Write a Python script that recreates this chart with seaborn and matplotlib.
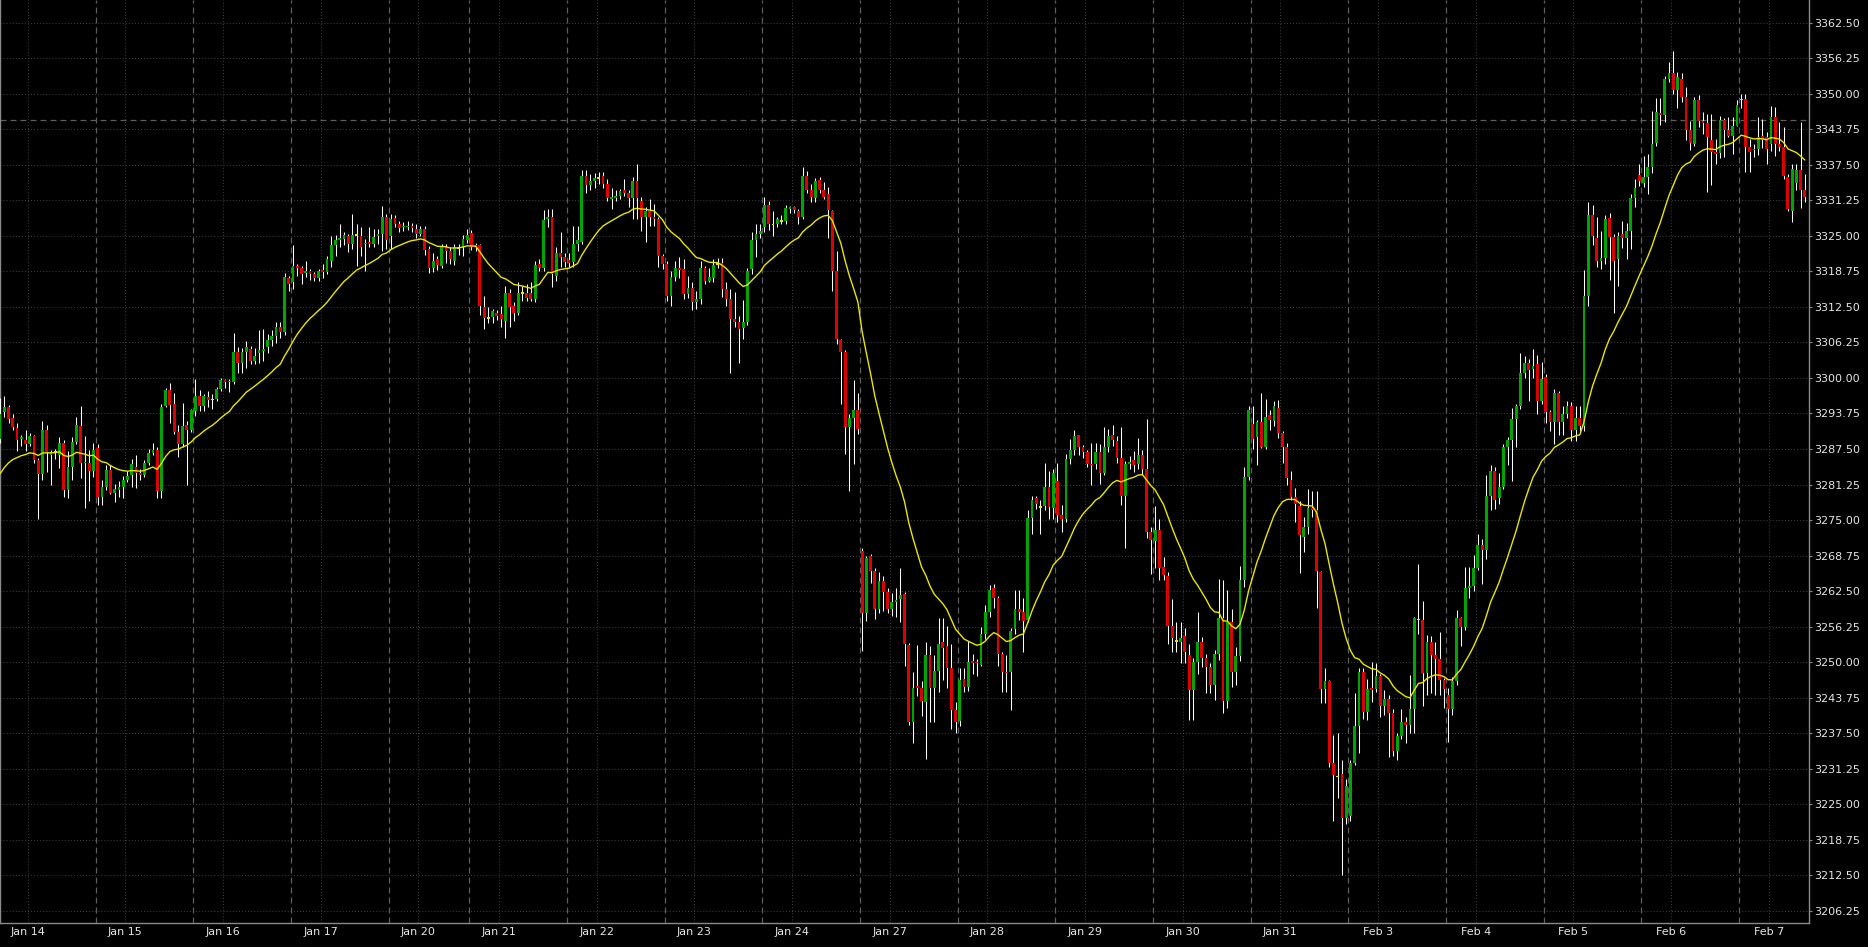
import numpy as np
import pandas as pd
import seaborn as sns
import matplotlib.pyplot as plt

# one trading day per entry, hourly bars
day_labels = ['Jan 14', 'Jan 15', 'Jan 16', 'Jan 17', 'Jan 20', 'Jan 21', 'Jan 22', 'Jan 23',
              'Jan 24', 'Jan 27', 'Jan 28', 'Jan 29', 'Jan 30', 'Jan 31', 'Feb 3', 'Feb 4',
              'Feb 5', 'Feb 6', 'Feb 7']
bars_per_day = [23, 23, 23, 23, 19] + [23] * 13 + [16]

open_by_day = [
    [3289.3, 3294.0, 3294.8, 3293.0, 3291.2, 3289.2, 3289.1, 3288.4, 3289.7, 3285.6, 3283.1, 3290.8, 3286.4, 3287.0, 3286.5, 3288.5, 3280.3, 3284.4, 3288.7, 3291.5, 3285.0, 3285.0, 3283.6],
    [3287.7, 3279.0, 3280.8, 3283.8, 3279.7, 3280.3, 3280.8, 3282.0, 3283.0, 3284.4, 3283.2, 3283.0, 3285.0, 3286.8, 3287.3, 3280.1, 3295.0, 3297.8, 3295.5, 3290.5, 3288.4, 3291.7, 3290.8],
    [3294.2, 3296.8, 3295.0, 3296.6, 3296.2, 3296.3, 3298.0, 3299.6, 3299.4, 3299.2, 3304.6, 3302.7, 3304.6, 3305.1, 3302.9, 3304.3, 3304.8, 3305.5, 3306.6, 3307.4, 3309.0, 3308.0, 3317.5],
    [3316.8, 3319.75, 3319.3, 3318.4, 3318.9, 3318.2, 3317.5, 3319.0, 3318.6, 3320.6, 3323.3, 3324.2, 3324.5, 3325.0, 3323.6, 3325.2, 3325.0, 3323.6, 3324.0, 3323.6, 3325.0, 3325.3, 3328.3],
    [3325.0, 3328.2, 3327.1, 3326.5, 3326.6, 3326.8, 3326.2, 3325.3, 3326.2, 3322.7, 3319.3, 3320.9, 3319.75, 3323.0, 3322.4, 3320.6, 3322.9, 3323.0, 3324.2],
    [3325.5, 3323.4, 3323.3, 3312.5, 3310.6, 3310.7, 3311.5, 3311.2, 3310.0, 3315.0, 3312.7, 3311.5, 3314.9, 3315.0, 3315.0, 3313.9, 3320.0, 3319.3, 3327.9, 3328.3, 3318.0, 3321.9, 3321.2],
    [3320.8, 3320.4, 3323.5, 3324.0, 3335.6, 3334.0, 3334.6, 3335.2, 3335.5, 3334.2, 3331.5, 3331.7, 3332.0, 3333.0, 3332.5, 3331.6, 3334.6, 3331.2, 3328.3, 3329.4, 3328.4, 3328.0, 3321.5],
    [3320.0, 3314.4, 3317.7, 3319.4, 3319.2, 3314.7, 3315.9, 3313.3, 3313.9, 3319.4, 3317.1, 3317.5, 3320.0, 3320.2, 3315.6, 3313.9, 3310.3, 3309.9, 3308.7, 3309.9, 3319.1, 3324.3, 3325.3],
    [3326.5, 3330.5, 3327.0, 3327.1, 3327.6, 3327.6, 3329.8, 3330.0, 3329.3, 3328.3, 3335.5, 3333.0, 3331.6, 3334.75, 3333.1, 3332.3, 3329.3, 3318.9, 3306.6, 3304.6, 3291.4, 3293.0, 3294.4],
    [3269.6, 3258.7, 3268.7, 3266.1, 3259.3, 3264.3, 3262.3, 3259.3, 3260.5, 3261.1, 3262.0, 3253.0, 3239.4, 3245.8, 3245.4, 3242.9, 3251.2, 3245.4, 3248.4, 3253.5, 3252.8, 3248.9, 3241.5],
    [3239.6, 3247.1, 3245.7, 3250.2, 3250.0, 3249.5, 3254.9, 3258.8, 3263.0, 3261.3, 3251.4, 3248.3, 3248.2, 3255.9, 3259.3, 3258.8, 3257.5, 3275.4, 3278.9, 3277.3, 3277.5, 3280.9, 3277.2],
    [3281.8, 3275.8, 3275.1, 3285.8, 3287.4, 3289.9, 3287.9, 3286.9, 3284.8, 3284.8, 3286.9, 3283.2, 3287.8, 3289.9, 3288.9, 3286.0, 3279.2, 3284.8, 3285.5, 3284.8, 3286.5, 3283.9, 3272.9],
    [3271.4, 3273.3, 3266.8, 3265.2, 3256.3, 3253.7, 3253.5, 3254.6, 3251.2, 3245.1, 3250.1, 3253.6, 3250.7, 3249.2, 3246.0, 3251.5, 3257.7, 3243.1, 3257.1, 3248.3, 3251.1, 3264.4, 3282.6],
    [3291.9, 3289.6, 3292.2, 3287.9, 3293.4, 3292.5, 3294.7, 3290.3, 3287.9, 3282.1, 3279.0, 3277.4, 3272.0, 3273.8, 3277.2, 3276.8, 3265.9, 3245.2, 3246.6, 3232.2, 3229.9, 3230.4, 3222.6],
    [3222.9, 3232.2, 3238.8, 3248.3, 3241.3, 3245.4, 3245.2, 3247.6, 3242.3, 3243.6, 3241.0, 3234.3, 3237.0, 3239.4, 3239.0, 3241.7, 3257.5, 3257.5, 3248.1, 3253.6, 3251.2, 3250.5, 3246.9],
    [3244.2, 3241.7, 3246.7, 3257.7, 3256.2, 3263.0, 3263.4, 3266.5, 3270.6, 3269.7, 3279.2, 3283.6, 3278.9, 3280.9, 3287.9, 3289.0, 3292.7, 3295.0, 3300.9, 3302.6, 3301.6, 3302.4, 3295.9],
    [3300.2, 3294.0, 3292.3, 3297.4, 3292.3, 3293.7, 3295.0, 3290.8, 3293.0, 3291.6, 3314.5, 3328.7, 3324.6, 3320.6, 3321.05, 3328.2, 3324.8, 3321.0, 3325.3, 3324.6, 3325.9, 3331.7, 3335.7],
    [3334.25, 3335.4, 3337.1, 3341.25, 3346.6, 3346.2, 3352.55, 3353.6, 3350.7, 3352.55, 3349.5, 3343.7, 3341.1, 3348.85, 3345.15, 3344.8, 3341.9, 3339.7, 3339.55, 3345.4, 3343.7, 3342.5, 3344.4],
    [3349.0, 3349.1, 3340.6, 3340.1, 3340.3, 3342.5, 3342.4, 3341.2, 3345.9, 3341.2, 3340.6, 3335.4, 3329.4, 3334.3, 3336.6, 3333.15],
]

high_by_day = [
    [3296.5, 3296.8, 3295.2, 3293.7, 3292.0, 3289.9, 3290.8, 3290.3, 3289.9, 3286.0, 3292.5, 3291.7, 3287.4, 3287.5, 3289.6, 3289.0, 3287.2, 3289.6, 3293.1, 3295.0, 3289.7, 3287.4, 3288.5],
    [3288.4, 3282.0, 3284.6, 3284.6, 3281.4, 3281.8, 3282.8, 3283.7, 3285.7, 3286.5, 3284.0, 3285.6, 3287.5, 3288.5, 3287.8, 3295.5, 3298.3, 3299.1, 3297.4, 3291.7, 3295.6, 3292.5, 3294.6],
    [3299.8, 3297.8, 3297.2, 3297.7, 3297.1, 3298.4, 3300.0, 3299.9, 3299.8, 3307.9, 3305.5, 3305.3, 3306.5, 3305.6, 3305.3, 3308.4, 3308.6, 3307.7, 3308.4, 3309.8, 3309.8, 3318.5, 3318.0],
    [3323.3, 3320.0, 3319.75, 3320.5, 3319.2, 3318.6, 3319.2, 3320.0, 3321.5, 3325.0, 3325.2, 3327.0, 3325.6, 3325.3, 3328.9, 3327.1, 3326.5, 3324.5, 3326.5, 3326.2, 3326.2, 3330.2, 3328.9],
    [3328.9, 3328.6, 3327.6, 3327.5, 3327.6, 3327.3, 3327.0, 3326.8, 3326.8, 3323.2, 3322.0, 3321.5, 3323.6, 3323.6, 3323.0, 3323.6, 3323.5, 3325.2, 3326.2],
    [3326.0, 3323.8, 3323.6, 3314.5, 3312.4, 3312.1, 3312.0, 3312.7, 3316.2, 3315.6, 3313.3, 3316.8, 3316.2, 3316.5, 3316.8, 3320.5, 3321.0, 3329.5, 3329.8, 3329.8, 3323.0, 3325.6, 3322.0],
    [3322.0, 3326.8, 3326.8, 3336.5, 3336.5, 3335.8, 3336.0, 3336.2, 3336.2, 3335.0, 3333.4, 3333.0, 3333.3, 3335.0, 3333.0, 3335.4, 3337.6, 3331.8, 3330.0, 3331.5, 3330.6, 3328.3, 3321.8],
    [3320.6, 3318.9, 3320.5, 3321.2, 3320.9, 3318.0, 3316.8, 3315.3, 3320.6, 3319.75, 3319.4, 3320.9, 3321.1, 3321.1, 3316.8, 3315.6, 3315.2, 3310.9, 3313.7, 3319.3, 3325.6, 3327.0, 3327.0],
    [3331.9, 3331.2, 3329.3, 3328.4, 3328.6, 3330.5, 3330.2, 3330.2, 3329.75, 3337.1, 3336.4, 3334.2, 3335.2, 3335.3, 3334.5, 3333.6, 3329.5, 3322.3, 3306.8, 3305.0, 3293.6, 3299.6, 3297.4],
    [3270.0, 3268.7, 3269.0, 3266.5, 3265.9, 3265.2, 3263.1, 3262.2, 3263.0, 3266.6, 3262.4, 3253.3, 3248.3, 3253.0, 3246.7, 3253.5, 3252.8, 3251.2, 3257.8, 3257.8, 3256.3, 3253.2, 3242.9],
    [3248.9, 3248.9, 3253.7, 3251.4, 3250.6, 3256.1, 3260.1, 3263.6, 3263.8, 3261.6, 3251.8, 3251.3, 3256.0, 3262.7, 3262.7, 3261.3, 3276.8, 3279.3, 3279.3, 3278.6, 3285.0, 3283.6, 3283.9],
    [3285.0, 3277.6, 3286.7, 3289.2, 3290.8, 3290.0, 3288.2, 3287.4, 3288.5, 3288.5, 3288.4, 3291.3, 3291.0, 3291.7, 3289.8, 3291.3, 3285.3, 3286.3, 3287.2, 3289.4, 3287.4, 3292.7, 3273.7],
    [3277.5, 3275.1, 3268.5, 3265.9, 3261.1, 3257.0, 3257.0, 3256.0, 3253.2, 3250.7, 3258.9, 3254.5, 3251.5, 3249.8, 3252.1, 3264.7, 3264.4, 3262.7, 3259.4, 3252.7, 3267.0, 3284.3, 3295.1],
    [3295.1, 3292.6, 3297.3, 3296.3, 3294.4, 3296.0, 3296.1, 3290.6, 3288.5, 3283.7, 3280.7, 3278.3, 3275.5, 3280.5, 3280.1, 3280.1, 3266.1, 3248.9, 3246.8, 3237.2, 3237.6, 3232.8, 3229.5],
    [3232.8, 3244.5, 3248.9, 3248.9, 3247.0, 3250.1, 3249.8, 3247.9, 3245.1, 3244.2, 3241.7, 3237.5, 3241.7, 3240.4, 3247.7, 3257.9, 3267.2, 3260.8, 3254.8, 3254.6, 3253.6, 3255.3, 3247.2],
    [3245.4, 3247.4, 3259.1, 3258.0, 3266.8, 3266.8, 3268.8, 3272.5, 3271.7, 3282.9, 3284.7, 3284.25, 3283.2, 3288.3, 3289.6, 3294.7, 3295.35, 3304.4, 3303.9, 3303.4, 3305.1, 3304.0, 3302.75],
    [3300.7, 3294.3, 3298.0, 3297.7, 3295.0, 3296.0, 3295.7, 3295.0, 3295.0, 3319.0, 3331.0, 3330.35, 3328.3, 3325.9, 3328.7, 3329.1, 3325.3, 3325.6, 3327.65, 3327.3, 3332.4, 3335.05, 3337.7],
    [3339.1, 3339.4, 3347.0, 3349.2, 3349.2, 3353.2, 3355.6, 3357.6, 3353.9, 3353.6, 3351.2, 3345.15, 3349.5, 3349.85, 3346.8, 3346.5, 3346.5, 3342.1, 3346.0, 3345.8, 3345.9, 3345.9, 3348.9],
    [3350.0, 3350.0, 3342.1, 3341.2, 3345.9, 3345.6, 3343.3, 3347.8, 3347.7, 3345.0, 3344.1, 3335.9, 3337.7, 3337.7, 3345.0, 3335.9],
]

low_by_day = [
    [3288.5, 3293.1, 3292.0, 3290.8, 3287.2, 3288.1, 3287.2, 3288.1, 3285.0, 3275.2, 3282.0, 3283.4, 3281.1, 3285.8, 3284.2, 3279.0, 3278.9, 3282.0, 3288.4, 3282.4, 3277.1, 3278.4, 3282.5],
    [3277.7, 3277.7, 3280.2, 3279.6, 3278.1, 3279.0, 3278.9, 3281.7, 3280.8, 3280.7, 3282.0, 3282.5, 3284.6, 3286.4, 3278.9, 3278.9, 3294.9, 3292.0, 3290.2, 3286.1, 3287.8, 3281.1, 3290.5],
    [3293.3, 3294.2, 3294.2, 3294.8, 3294.6, 3295.9, 3297.7, 3298.3, 3297.6, 3299.0, 3300.9, 3300.8, 3301.8, 3302.4, 3302.4, 3302.7, 3303.0, 3304.3, 3305.6, 3306.2, 3307.1, 3307.5, 3315.3],
    [3315.6, 3318.0, 3316.5, 3317.7, 3317.2, 3317.1, 3317.0, 3317.5, 3318.2, 3319.5, 3321.5, 3323.0, 3323.3, 3322.2, 3322.7, 3319.75, 3321.5, 3318.9, 3323.0, 3323.0, 3323.6, 3322.4, 3322.7],
    [3322.7, 3326.5, 3325.7, 3325.8, 3326.0, 3325.6, 3324.6, 3324.9, 3321.7, 3318.4, 3318.6, 3319.0, 3319.4, 3320.3, 3320.0, 3319.9, 3321.6, 3321.5, 3323.7],
    [3322.5, 3322.4, 3311.0, 3308.6, 3309.7, 3309.7, 3310.2, 3308.9, 3307.1, 3308.9, 3310.0, 3311.0, 3313.5, 3313.5, 3313.5, 3313.3, 3318.8, 3318.8, 3326.5, 3316.0, 3317.0, 3319.5, 3319.5],
    [3319.5, 3319.6, 3322.3, 3323.5, 3332.5, 3333.0, 3333.4, 3334.2, 3333.5, 3331.2, 3329.8, 3331.2, 3331.5, 3332.0, 3330.0, 3328.0, 3328.0, 3325.8, 3324.0, 3326.8, 3326.8, 3319.5, 3319.2],
    [3313.6, 3312.7, 3317.0, 3317.5, 3313.9, 3314.0, 3311.9, 3312.1, 3313.0, 3316.5, 3316.9, 3316.8, 3319.4, 3314.3, 3312.7, 3300.9, 3309.0, 3302.7, 3306.8, 3309.3, 3318.2, 3321.3, 3324.7],
    [3325.6, 3326.0, 3324.9, 3326.5, 3327.0, 3327.0, 3329.0, 3329.0, 3327.0, 3328.0, 3332.5, 3331.0, 3331.0, 3332.5, 3331.5, 3324.7, 3315.3, 3305.9, 3295.4, 3286.7, 3280.1, 3284.9, 3290.1],
    [3252.0, 3257.3, 3264.0, 3257.6, 3258.7, 3259.0, 3258.7, 3258.1, 3258.0, 3257.1, 3249.3, 3239.0, 3235.8, 3244.0, 3240.6, 3233.0, 3239.4, 3239.4, 3244.7, 3246.9, 3245.4, 3238.3, 3237.6],
    [3238.7, 3244.7, 3245.0, 3247.9, 3247.5, 3249.3, 3254.0, 3258.0, 3259.5, 3249.3, 3244.7, 3244.7, 3241.5, 3255.0, 3257.5, 3251.8, 3257.0, 3272.6, 3277.0, 3272.6, 3276.8, 3275.1, 3275.1],
    [3274.7, 3272.9, 3274.7, 3284.8, 3286.4, 3286.5, 3286.0, 3284.3, 3281.1, 3284.0, 3281.3, 3282.9, 3287.0, 3288.0, 3285.0, 3277.6, 3270.1, 3284.0, 3283.5, 3284.0, 3283.0, 3271.9, 3265.5],
    [3266.6, 3264.5, 3264.5, 3253.2, 3251.8, 3251.8, 3249.9, 3249.9, 3239.9, 3239.8, 3248.0, 3249.2, 3244.5, 3244.5, 3243.3, 3250.4, 3241.0, 3241.9, 3245.7, 3246.0, 3250.2, 3263.2, 3282.0],
    [3287.5, 3284.6, 3287.7, 3287.5, 3290.8, 3291.5, 3289.5, 3285.0, 3281.2, 3278.5, 3274.7, 3265.7, 3269.4, 3272.5, 3275.6, 3259.6, 3242.8, 3242.8, 3231.6, 3222.0, 3226.1, 3212.6, 3221.5],
    [3222.0, 3231.9, 3234.0, 3240.0, 3239.8, 3243.0, 3244.7, 3240.4, 3240.7, 3233.3, 3233.4, 3232.7, 3236.5, 3235.7, 3237.5, 3237.6, 3255.0, 3242.3, 3244.2, 3244.5, 3244.2, 3244.2, 3241.9],
    [3235.9, 3240.7, 3246.0, 3252.8, 3255.6, 3261.3, 3262.5, 3266.2, 3263.8, 3268.1, 3276.8, 3277.0, 3277.85, 3280.5, 3284.6, 3281.9, 3287.8, 3294.5, 3300.0, 3296.0, 3300.0, 3293.7, 3295.5],
    [3292.0, 3290.6, 3288.3, 3289.9, 3289.9, 3293.0, 3288.9, 3288.9, 3290.6, 3290.6, 3312.7, 3323.3, 3319.6, 3319.25, 3320.0, 3317.2, 3311.5, 3316.2, 3322.8, 3320.9, 3322.6, 3330.0, 3333.8],
    [3333.6, 3332.4, 3336.0, 3340.8, 3344.5, 3345.0, 3352.0, 3349.9, 3347.5, 3348.6, 3341.8, 3340.1, 3340.8, 3344.2, 3343.0, 3332.7, 3333.9, 3337.7, 3338.7, 3338.9, 3342.3, 3339.4, 3344.3],
    [3347.5, 3336.2, 3336.2, 3338.9, 3339.3, 3340.5, 3337.7, 3340.0, 3339.1, 3340.0, 3335.0, 3329.4, 3327.4, 3333.0, 3329.9, 3330.9],
]

close_by_day = [
    [3293.7, 3294.8, 3292.8, 3291.4, 3289.1, 3289.6, 3288.4, 3289.7, 3285.6, 3283.1, 3290.9, 3287.0, 3287.0, 3287.0, 3288.5, 3280.3, 3284.4, 3288.7, 3291.7, 3285.0, 3285.2, 3283.6, 3287.4],
    [3279.0, 3280.8, 3283.8, 3279.7, 3280.4, 3280.8, 3282.0, 3282.7, 3284.8, 3283.2, 3282.9, 3285.0, 3286.8, 3287.3, 3280.1, 3294.8, 3297.8, 3295.2, 3290.5, 3288.4, 3291.5, 3290.9, 3294.3],
    [3296.8, 3295.0, 3296.8, 3296.2, 3296.2, 3298.0, 3299.6, 3299.2, 3299.2, 3304.6, 3302.7, 3304.6, 3305.5, 3302.9, 3303.9, 3304.9, 3305.1, 3306.6, 3307.4, 3309.0, 3308.1, 3317.7, 3316.5],
    [3319.75, 3319.35, 3318.3, 3318.75, 3318.2, 3317.5, 3318.75, 3318.6, 3320.9, 3323.3, 3324.3, 3324.6, 3325.2, 3323.6, 3325.2, 3325.2, 3323.0, 3323.8, 3323.6, 3324.75, 3325.4, 3328.3, 3324.2],
    [3328.0, 3327.1, 3326.3, 3326.8, 3326.8, 3326.4, 3325.3, 3326.2, 3322.5, 3319.3, 3320.6, 3319.9, 3323.0, 3322.4, 3320.9, 3323.0, 3322.9, 3324.5, 3325.2],
    [3323.0, 3323.0, 3312.7, 3310.5, 3310.6, 3311.7, 3310.9, 3310.3, 3315.0, 3312.4, 3311.5, 3315.0, 3314.9, 3314.0, 3313.9, 3319.9, 3319.3, 3327.7, 3328.3, 3318.3, 3321.9, 3321.2, 3320.4],
    [3320.3, 3323.5, 3324.2, 3335.6, 3334.0, 3334.6, 3335.2, 3335.2, 3334.2, 3331.6, 3331.8, 3332.0, 3332.9, 3332.5, 3331.6, 3334.6, 3331.6, 3328.3, 3329.3, 3328.3, 3328.0, 3321.5, 3320.0],
    [3314.4, 3317.7, 3319.4, 3319.0, 3314.7, 3315.9, 3313.3, 3313.9, 3319.4, 3317.1, 3317.7, 3319.9, 3320.0, 3315.6, 3313.9, 3310.3, 3309.9, 3308.6, 3309.9, 3318.9, 3324.3, 3325.3, 3325.9],
    [3330.5, 3327.1, 3327.0, 3328.0, 3327.6, 3329.9, 3330.0, 3329.5, 3328.4, 3335.5, 3333.0, 3331.8, 3334.6, 3333.1, 3331.9, 3329.5, 3318.9, 3306.8, 3304.6, 3291.4, 3293.0, 3294.4, 3291.0],
    [3258.7, 3268.4, 3266.1, 3259.3, 3264.3, 3262.3, 3259.3, 3260.5, 3260.9, 3261.8, 3253.2, 3239.4, 3245.5, 3245.4, 3243.1, 3251.2, 3245.4, 3248.4, 3253.2, 3252.5, 3248.9, 3241.5, 3239.4],
    [3246.9, 3245.7, 3250.0, 3249.8, 3249.8, 3254.9, 3258.8, 3262.7, 3261.3, 3251.4, 3248.2, 3248.1, 3255.4, 3259.3, 3258.8, 3257.3, 3275.4, 3278.6, 3277.9, 3277.3, 3280.9, 3277.3, 3283.2],
    [3275.8, 3275.1, 3285.8, 3287.4, 3289.8, 3287.8, 3286.9, 3284.8, 3284.6, 3286.9, 3283.2, 3287.8, 3289.8, 3289.1, 3286.0, 3279.2, 3284.8, 3285.2, 3284.6, 3286.5, 3283.9, 3272.9, 3271.5],
    [3273.3, 3266.6, 3265.3, 3256.3, 3254.2, 3253.7, 3254.2, 3251.8, 3245.1, 3250.1, 3253.6, 3250.7, 3249.2, 3246.0, 3251.5, 3257.7, 3243.1, 3257.1, 3248.3, 3251.1, 3264.4, 3282.6, 3294.3],
    [3289.3, 3292.2, 3287.9, 3293.2, 3292.6, 3295.0, 3290.3, 3287.9, 3282.4, 3279.0, 3277.9, 3272.3, 3273.8, 3277.2, 3276.7, 3266.1, 3245.2, 3246.6, 3232.3, 3230.2, 3229.9, 3222.6, 3228.2],
    [3232.2, 3238.8, 3248.3, 3241.3, 3245.2, 3245.1, 3247.6, 3242.3, 3243.6, 3241.0, 3234.3, 3237.0, 3239.4, 3239.0, 3241.7, 3257.7, 3257.5, 3248.1, 3253.6, 3251.2, 3250.5, 3246.9, 3245.2],
    [3241.7, 3246.7, 3257.7, 3256.2, 3263.0, 3263.4, 3266.5, 3270.6, 3269.7, 3279.2, 3283.6, 3278.5, 3280.9, 3287.9, 3289.0, 3292.7, 3295.0, 3300.9, 3302.6, 3301.4, 3302.1, 3296.0, 3299.9],
    [3294.0, 3292.3, 3297.4, 3292.3, 3293.7, 3295.0, 3290.8, 3293.0, 3291.6, 3314.5, 3328.7, 3325.0, 3320.6, 3321.05, 3328.0, 3324.8, 3320.6, 3325.0, 3324.6, 3325.9, 3331.7, 3333.5, 3334.7],
    [3335.4, 3337.1, 3341.1, 3346.8, 3346.2, 3352.55, 3353.6, 3350.7, 3352.9, 3349.5, 3343.7, 3341.25, 3348.85, 3345.15, 3344.8, 3342.45, 3339.7, 3339.4, 3345.4, 3343.7, 3342.5, 3344.4, 3348.0],
    [3349.0, 3340.6, 3339.7, 3340.3, 3342.4, 3341.9, 3340.3, 3345.9, 3341.2, 3340.6, 3335.6, 3329.7, 3336.8, 3336.6, 3333.15, 3331.8],
]

ma_seed = 3282.0      # moving average value at the left edge
ma_span = 20
price_line = 3345.3   # dashed horizontal level
y_ticks = [3206.25, 3212.50, 3218.75, 3225.00, 3231.25, 3237.50, 3243.75, 3250.00, 3256.25,
           3262.50, 3268.75, 3275.00, 3281.25, 3287.50, 3293.75, 3300.00, 3306.25, 3312.50,
           3318.75, 3325.00, 3331.25, 3337.50, 3343.75, 3350.00, 3356.25, 3362.50]

for name, arr in [('open', open_by_day), ('high', high_by_day), ('low', low_by_day), ('close', close_by_day)]:
    lens = [len(d) for d in arr]
    if lens != bars_per_day:
        raise SystemExit('{} lengths {}'.format(name, lens))

df = pd.DataFrame({
    'open': np.concatenate(open_by_day),
    'high': np.concatenate(high_by_day),
    'low': np.concatenate(low_by_day),
    'close': np.concatenate(close_by_day),
})
df['x'] = np.arange(len(df))
df['ma'] = pd.Series([ma_seed] + list(df['close'])).ewm(span=ma_span, adjust=False).mean().iloc[1:].values

day_start = np.concatenate([[0], np.cumsum(bars_per_day)[:-1]])

UP, DOWN, FLAT = '#00a400', '#dc0000', '#e8e800'
GRID, SEP, AXIS, TEXT = '#3c3c3c', '#5e5e5e', '#8a8a8a', '#e6e6e6'

sns.set_theme(style='dark')
plt.rcParams['font.family'] = ['DejaVu Sans']
plt.rcParams['lines.scale_dashes'] = False

fig = plt.figure(figsize=(18.68, 9.47), dpi=100, facecolor='black')
ax = fig.add_axes([0, 24.3 / 947, 1808.7 / 1868, 922.7 / 947])
ax.set_facecolor('black')

ax.set_xlim(-0.005, 425.9)
ax.set_ylim(3204.16, 3366.49)

# grid: dotted at ticks, dashed at day boundaries
for y in y_ticks:
    ax.axhline(y, color=GRID, lw=0.8, ls=(0, (0.75, 1.45)), zorder=1)
for s in day_start:
    ax.axvline(s + 6.5, color=GRID, lw=0.8, ls=(0, (0.75, 1.45)), zorder=1)
for s in day_start[1:]:
    ax.axvline(s - 0.5, color=SEP, lw=0.9, ls=(0, (4.3, 2.9)), zorder=1)
ax.axhline(price_line, color=SEP, lw=0.9, ls=(0, (4.3, 2.9)), zorder=1)

# candles
ax.vlines(df['x'], df['low'], df['high'], color='white', lw=0.75, zorder=3)
up = df['close'] > df['open']
down = df['close'] < df['open']
flat = ~(up | down)
body_bottom = np.minimum(df['open'], df['close'])
body_height = (df['close'] - df['open']).abs()
colors = np.where(up, UP, np.where(down, DOWN, FLAT))
body_bottom = np.where(flat, df['close'] - 0.15, body_bottom)
body_height = np.where(flat, 0.3, np.maximum(body_height, 0.18))
ax.bar(df['x'], body_height, bottom=body_bottom, width=0.66, color=colors, lw=0, zorder=4)

sns.lineplot(x=df['x'], y=df['ma'], ax=ax, color='#e6e600', lw=1.0, zorder=5, legend=False)

ax.set_xticks(day_start + 6.5)
ax.set_xticklabels(day_labels)
ax.set_yticks(y_ticks)
ax.set_yticklabels(['{:.2f}'.format(v) for v in y_ticks])
ax.yaxis.tick_right()
ax.set_xlabel('')
ax.set_ylabel('')
ax.grid(False)

ax.tick_params(axis='x', length=2.4, width=0.8, color=AXIS, labelcolor=TEXT, labelsize=8, pad=0.6, direction='out')
ax.tick_params(axis='y', length=2.4, width=0.8, color=AXIS, labelcolor=TEXT, labelsize=8, pad=1.8, direction='out')
for side in ['right', 'bottom', 'left']:
    ax.spines[side].set_visible(True)
    ax.spines[side].set_color(AXIS)
    ax.spines[side].set_linewidth(1.0)
ax.spines['top'].set_visible(False)

fig.savefig('out.png', dpi=100, facecolor='black')
plt.close('all')
